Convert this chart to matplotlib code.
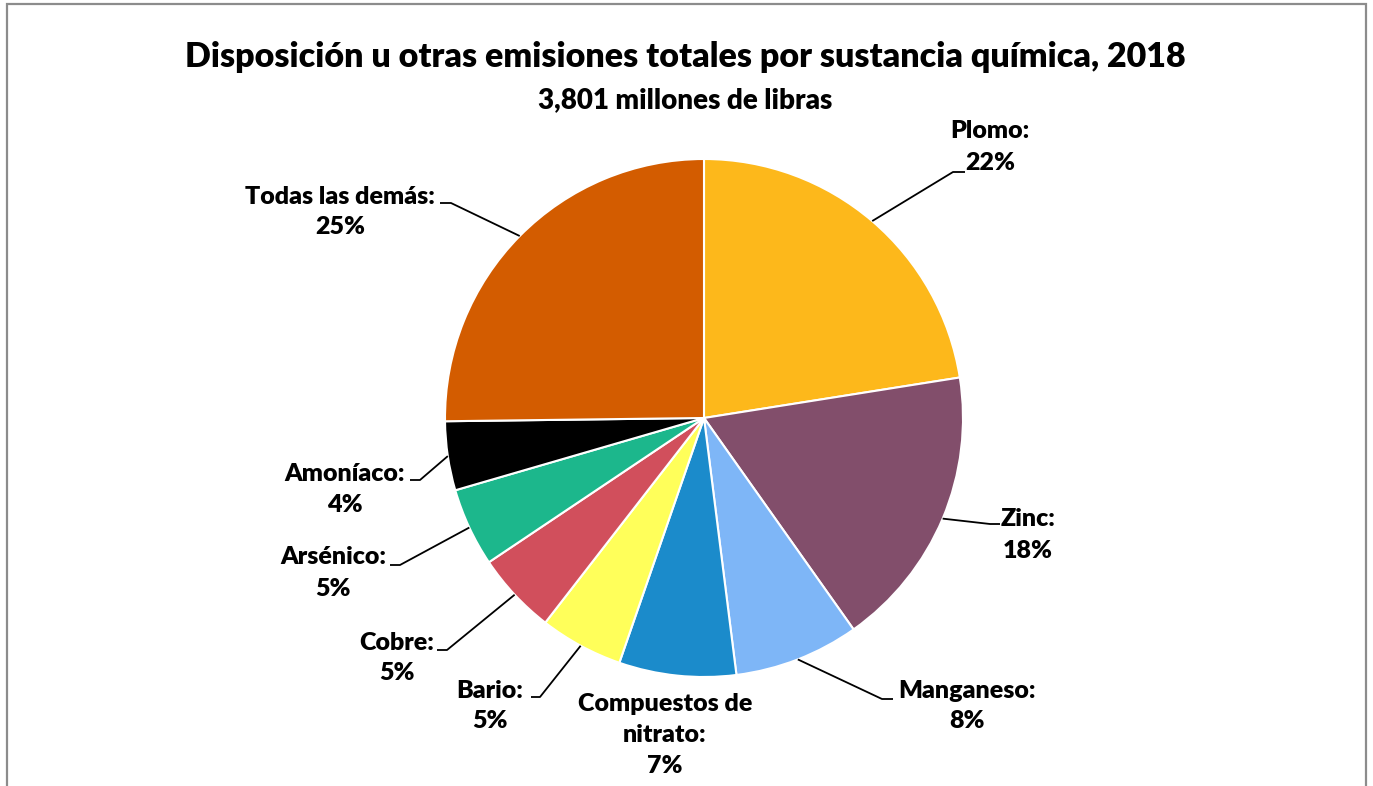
import numpy as np
import matplotlib.pyplot as plt
from matplotlib.patches import Rectangle

plt.rcParams['font.family'] = ['Lato', 'DejaVu Sans']
plt.rcParams['font.weight'] = 'bold'

sustancias = ['Plomo', 'Zinc', 'Manganeso', 'Compuestos de\nnitrato', 'Bario',
              'Cobre', 'Arsénico', 'Amoníaco', 'Todas las demás']
porcentajes = [22.5, 17.7, 7.8, 7.3, 5.2, 5.1, 4.9, 4.3, 25.2]
etiquetas_pct = ['22%', '18%', '8%', '7%', '5%', '5%', '5%', '4%', '25%']
colores = ['#FDB81B', '#824E6B', '#7EB6F7', '#1B8BCB', '#FFFF5A',
           '#D14F5C', '#1CB78C', '#000000', '#D35C00']

W, H = 1373, 786
cx, cy, r = 704, 418, 259

fig = plt.figure(figsize=(W / 100, H / 100), dpi=100)
fig.add_artist(Rectangle((7 / W, -0.05), (1366 - 7) / W, (H - 4) / H + 0.05,
                         transform=fig.transFigure, fill=False,
                         edgecolor='#8c8c8c', linewidth=1.6))

ax = fig.add_axes([(cx - r) / W, (H - cy - r) / H, 2 * r / W, 2 * r / H])
ax.pie(porcentajes, colors=colores, startangle=90, counterclock=False,
       wedgeprops=dict(edgecolor='white', linewidth=1.5))
ax.set_xlim(-1, 1)
ax.set_ylim(-1, 1)
ax.axis('off')


def px(x, y):
    # pixel coords of the reference -> data coords of the pie axes
    return (x - cx) / r, (cy - y) / r


# label centre (px) and leader elbow / end (px); None = no leader
layout = [
    ((990, 147), [(953, 172), (965, 172)]),
    ((1028, 535), [(990, 524), (1000, 524)]),
    ((967, 706), [(882, 699), (893, 699)]),
    ((665, 735), None),
    ((490, 706), [(540, 697), (531, 697)]),
    ((397, 658), [(447, 650), (437, 650)]),
    ((333, 573), [(400, 565), (390, 565)]),
    ((345, 490), [(420, 480), (410, 480)]),
    ((340, 212), [(451, 203), (440, 203)]),
]

cum = np.cumsum([0] + porcentajes) / sum(porcentajes)
for i, (nombre, pct) in enumerate(zip(sustancias, etiquetas_pct)):
    (tx, ty), leader = layout[i]
    ax.text(*px(tx, ty), f'{nombre}:\n{pct}', ha='center', va='center',
            multialignment='center', fontsize=18, fontweight='heavy',
            linespacing=1.5, clip_on=False)
    if leader:
        mid = np.pi * 2 * (cum[i] + cum[i + 1]) / 2
        ex, ey = np.sin(mid), np.cos(mid)
        (x1, y1), (x2, y2) = px(*leader[0]), px(*leader[1])
        ax.plot([ex, x1, x2], [ey, y1, y2], color='black', lw=1.3,
                clip_on=False, solid_capstyle='butt')

fig.text(685 / W, 1 - 57 / H,
         'Disposición u otras emisiones totales por sustancia química, 2018',
         ha='center', va='center', fontsize=24.5, fontweight='heavy')
fig.text(685 / W, 1 - 100 / H, '3,801 millones de libras',
         ha='center', va='center', fontsize=20, fontweight='heavy')

fig.savefig('out.png', dpi=100)
